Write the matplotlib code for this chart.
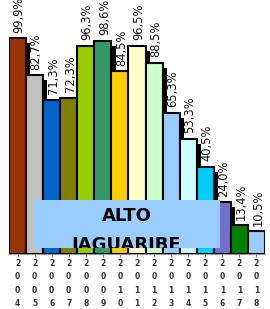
import matplotlib
matplotlib.use("Agg")
import matplotlib.pyplot as plt
import matplotlib.patheffects as pe
from matplotlib.patches import Rectangle

years = ["2004", "2005", "2006", "2007", "2008", "2009", "2010", "2011",
         "2012", "2013", "2014", "2015", "2016", "2017", "2018"]
values = [99.9, 82.7, 71.3, 72.3, 96.3, 98.6, 84.5, 96.5, 88.5, 65.3,
          53.3, 40.5, 24.0, 13.4, 10.5]
colors = ["#993300", "#C0C0C0", "#0066CC", "#808000", "#99CC00", "#339966",
          "#FFCC00", "#FFFFCC", "#CCFFCC", "#99CCFF", "#CCFFFF", "#00CCFF",
          "#7070CC", "#008000", "#99CCFF"]
title = "ALTO\nJAGUARIBE"

W, H = 270, 309
fig = plt.figure(figsize=(W / 100, H / 100), dpi=100)
ax = fig.add_axes([9 / W, (H - 254) / H, 256 / W, 254 / H])

x = list(range(len(values)))
bars = ax.bar(x, values, width=1.0, color=colors, edgecolor="black", linewidth=1.5)
for b in bars:
    b.set_path_effects([pe.SimplePatchShadow(offset=(3, -3.6), shadow_rgbFace="black", alpha=1.0),
                        pe.Normal()])

ax.set_xlim(-0.5, len(values) - 0.5)
ax.set_ylim(0, 117.6)

for xi, v in zip(x, values):
    ax.annotate(f"{v:.1f}%".replace(".", ","), (xi, v), xytext=(1, 4),
                textcoords="offset points", rotation=90, ha="center", va="bottom",
                fontsize=8.3, color="#111111", annotation_clip=False)

ax.set_xticks(x)
ax.set_xticklabels(["\n".join(y) for y in years], fontsize=5.5, fontweight="bold",
                   color="#333333", linespacing=1.62)
ax.tick_params(axis="x", length=2, color="#888888", pad=1.5)
ax.set_yticks([])
for s in ["top", "right", "left"]:
    ax.spines[s].set_visible(False)
ax.spines["bottom"].set_color("#999999")
ax.spines["bottom"].set_linewidth(0.8)

# title box
bx0, by0, bx1, by1 = 33 / W, (H - 248) / H, 220 / W, (H - 200) / H
rect = Rectangle((bx0, by0), bx1 - bx0, by1 - by0, transform=fig.transFigure,
                 facecolor="#99CCFF", edgecolor="none", zorder=5)
fig.add_artist(rect)
t = fig.text((bx0 + bx1) / 2, by1 - 7 / H, title, ha="center", va="top",
             fontsize=13, fontweight="bold", color="black", linespacing=1.75, zorder=6)
t.set_clip_path(rect)

fig.savefig("out.png", dpi=100)
